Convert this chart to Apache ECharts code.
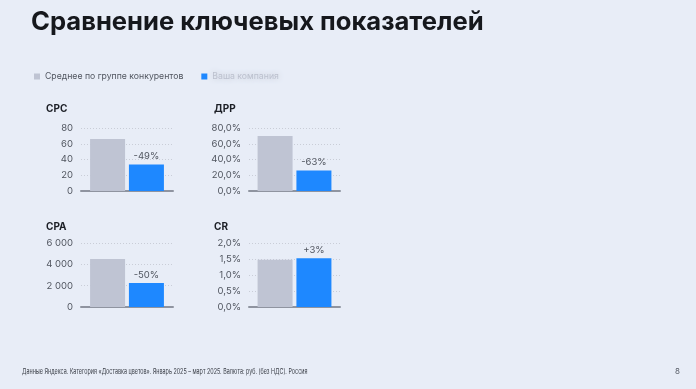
<!DOCTYPE html>
<html><head><meta charset="utf-8">
<script src="https://cdn.jsdelivr.net/npm/echarts@6/dist/echarts.min.js"></script>
<style>html,body{margin:0;padding:0;background:#e8edf7}#c{width:696px;height:389px}</style>
</head><body><div id="c"></div>
<script>
const seriesNames = ['Среднее по группе конкурентов', 'Ваша компания'];
const metrics = ['CPC', 'ДРР', 'CPA', 'CR'];
const competitorValues = [66, 70, 4500, 1.48];
const ownValues = [33.7, 26, 2250, 1.52];
const diffLabels = ['-49%', '-63%', '-50%', '+3%'];
const yMax = [80, 80, 6000, 2];
const yInterval = [20, 20, 2000, 0.5];
const tickLabelsCPC = ['0', '20', '40', '60', '80'];
const tickLabelsDRR = ['0,0%', '20,0%', '40,0%', '60,0%', '80,0%'];
const tickLabelsCPA = ['0', '2 000', '4 000', '6 000'];
const tickLabelsCR = ['0,0%', '0,5%', '1,0%', '1,5%', '2,0%'];
const tickLabels = [tickLabelsCPC, tickLabelsDRR, tickLabelsCPA, tickLabelsCR];
const mainTitle = 'Сравнение ключевых показателей';
const footer = 'Данные Яндекса. Категория «Доставка цветов». Январь 2025 – март 2025. Валюта: руб. (без НДС). Россия';
const pageNum = '8';

const FONT = 'Inter, "Noto Sans", sans-serif';
const grids = [
  {left: 81, top: 128, width: 92, height: 63},
  {left: 249, top: 128, width: 91, height: 63},
  {left: 81, top: 243, width: 92, height: 64},
  {left: 249, top: 243, width: 91, height: 64}
];
const titlePos = [[46, 104], [214, 104], [46, 222], [214, 222]];

const chart = echarts.init(document.getElementById('c'), null, {renderer: 'canvas'});
const titles = [
  {text: mainTitle, left: 31, top: 9, padding: 0, textStyle: {fontFamily: FONT, fontSize: 25.6, fontWeight: 'bold', color: '#16181d'}},
  {text: pageNum, left: 675, top: 368, padding: 0, textStyle: {fontFamily: FONT, fontSize: 8, fontWeight: 'normal', color: '#555a64'}}
];
metrics.forEach((m, i) => titles.push({text: m, left: titlePos[i][0], top: titlePos[i][1], padding: 0, textStyle: {fontFamily: FONT, fontSize: 10, fontWeight: 'bold', color: '#1c1f26'}}));

const xAxes = [], yAxes = [], series = [];
metrics.forEach((m, i) => {
  xAxes.push({type: 'category', gridIndex: i, data: [m], axisLabel: {show: false}, axisTick: {show: false},
    axisLine: {show: true, lineStyle: {color: '#8f94a0', width: 2}}});
  yAxes.push({type: 'value', gridIndex: i, min: 0, max: yMax[i], interval: yInterval[i],
    axisLine: {show: false}, axisTick: {show: false},
    splitLine: {show: true, lineStyle: {color: '#c9cdd7', type: [1, 2], width: 1}},
    axisLabel: {margin: 8, fontFamily: FONT, fontSize: 9.5, color: '#50555f',
      formatter: (v) => tickLabels[i][Math.round(v / yInterval[i])]}});
  series.push({type: 'bar', name: seriesNames[0], xAxisIndex: i, yAxisIndex: i, data: [competitorValues[i]],
    barWidth: 35, barGap: '11%', itemStyle: {color: '#bfc4d3'}});
  series.push({type: 'bar', name: seriesNames[1], xAxisIndex: i, yAxisIndex: i, data: [ownValues[i]],
    barWidth: 35, barGap: '11%', itemStyle: {color: '#1e88ff'},
    label: {show: true, position: 'top', distance: 3, formatter: () => diffLabels[i], fontFamily: FONT, fontSize: 9.5, color: '#50555f'}});
});

chart.setOption({
  backgroundColor: '#e8edf7',
  animation: false,
  title: titles,
  legend: {
    left: 34, top: 72, padding: 0, icon: 'rect', itemWidth: 6, itemHeight: 6, itemGap: 18,
    textStyle: {fontFamily: FONT, fontSize: 8.7, color: '#50555f'},
    data: [
      {name: seriesNames[0]},
      {name: seriesNames[1], textStyle: {color: '#bcc1ce', textShadowColor: '#bcc1ce', textShadowBlur: 6}}
    ]
  },
  grid: grids,
  xAxis: xAxes,
  yAxis: yAxes,
  series: series,
  graphic: [{
    type: 'text', left: 22, top: 368, scaleX: 0.72,
    style: {text: footer, fontFamily: FONT, fontSize: 7.5, fill: '#3c4049'}
  }]
});
</script></body></html>
